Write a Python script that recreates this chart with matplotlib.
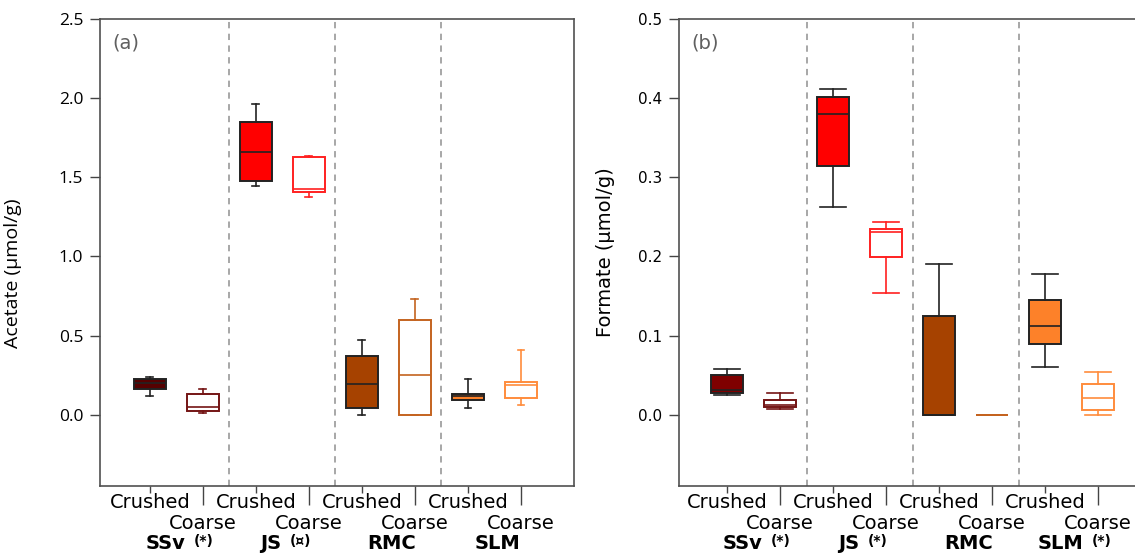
import numpy as np
import matplotlib.pyplot as plt
from matplotlib.offsetbox import TextArea, HPacker, AnnotationBbox

# sites and treatments
sites = ['SSv', 'JS', 'RMC', 'SLM']
treatments = ['Crushed', 'Coarse']
marks_a = ['(*)', '(\u00a4)', '', '']
marks_b = ['(*)', '(*)', '', '(*)']

# box stats, order: SSv crushed, SSv coarse, JS crushed, JS coarse, RMC ..., SLM ...
# acetate (umol/g)
ac_whislo = [0.121, 0.013, 1.442, 1.374, 0.000, 0.000, 0.044, 0.063]
ac_q1     = [0.165, 0.025, 1.476, 1.408, 0.042, 0.000, 0.095, 0.106]
ac_med    = [0.201, 0.049, 1.660, 1.423, 0.192, 0.254, 0.116, 0.186]
ac_q3     = [0.224, 0.131, 1.848, 1.626, 0.370, 0.598, 0.133, 0.205]
ac_whishi = [0.241, 0.165, 1.964, 1.637, 0.472, 0.732, 0.228, 0.412]

# formate (umol/g)
fo_whislo = [0.0245, 0.0076, 0.263, 0.1535, 0.000, 0.0, 0.0603, 0.000]
fo_q1     = [0.0274, 0.0101, 0.3145, 0.1998, 0.000, 0.0, 0.0898, 0.0055]
fo_med    = [0.0308, 0.0118, 0.380, 0.231, 0.000, 0.0, 0.1126, 0.0207]
fo_q3     = [0.0497, 0.0186, 0.401, 0.2344, 0.1252, 0.0, 0.1446, 0.0388]
fo_whishi = [0.0578, 0.027, 0.411, 0.244, 0.1906, 0.0, 0.1775, 0.0544]

crushed_col_a = ['#560000', '#ff0000', '#a64200', '#fd8129']
crushed_col_b = ['#7f0000', '#ff0000', '#a64200', '#fd8129']
coarse_col = ['#741414', '#ff2020', '#c4631f', '#ff8c3c']


def draw_panel(ax, whislo, q1, med, q3, whishi, crushed_col, capw, ylim, yticks,
               ylabel, tag, marks, tickfont, ylab_pos):
    for i in range(8):
        site = i // 2
        stats = [dict(whislo=whislo[i], q1=q1[i], med=med[i], q3=q3[i],
                      whishi=whishi[i], fliers=[])]
        if i % 2 == 0:
            fc, ec, lc = crushed_col[site], '#222222', '#222222'
        else:
            fc, ec, lc = 'white', coarse_col[site], coarse_col[site]
        ax.bxp(stats, positions=[i + 1], widths=0.6, patch_artist=True,
               manage_ticks=False, capwidths=capw,
               boxprops=dict(facecolor=fc, edgecolor=ec, linewidth=1.4),
               medianprops=dict(color=lc, linewidth=1.2),
               whiskerprops=dict(color=lc, linewidth=1.2),
               capprops=dict(color=lc, linewidth=1.2))

    for xs in [2.5, 4.5, 6.5]:
        ax.axvline(xs, color='#a0a0a0', linestyle=(0, (3.5, 3)), linewidth=1.3, zorder=0)

    ax.set_ylim(*ylim)
    ax.set_yticks(yticks)
    ax.set_yticklabels(['%.1f' % t for t in yticks], fontfamily=tickfont[0], fontsize=tickfont[1])
    ax.set_ylabel(ylabel, fontfamily=tickfont[2], fontsize=14)
    ax.yaxis.set_label_coords(ylab_pos[0], ylab_pos[1])
    ax.tick_params(axis='y', length=7, width=1, pad=5, color='#444444')

    ax.set_xticks([1, 3, 5, 7], labels=['Crushed'] * 4)
    ax.set_xticks([2, 4, 6, 8], labels=['Coarse'] * 4, minor=True)
    ax.tick_params(axis='x', which='major', length=5, width=1, pad=0, labelsize=14, color='#444444')
    ax.tick_params(axis='x', which='minor', length=14, width=1, pad=6, labelsize=14, color='#444444')

    for sp in ax.spines.values():
        sp.set_color('#505050')
        sp.set_linewidth(1.2)

    ax.text(0.027, 0.97, tag, transform=ax.transAxes, ha='left', va='top',
            fontsize=14, color='#606060')

    for k, name in enumerate(sites):
        kids = [TextArea(name, textprops=dict(fontsize=14, fontweight='bold'))]
        if marks[k]:
            kids.append(TextArea(marks[k], textprops=dict(fontsize=10, fontweight='bold')))
        pack = HPacker(children=kids, align='top', pad=0, sep=6)
        ab = AnnotationBbox(pack, (2 * k + 1.56, -0.124), xycoords=ax.get_xaxis_transform(),
                            frameon=False, box_alignment=(0.5, 0.5), annotation_clip=False)
        ax.add_artist(ab)


fig = plt.figure(figsize=(11.35, 5.53), dpi=100)
ax1 = fig.add_axes([100 / 1135, 1 - 486 / 553, 474 / 1135, 467 / 553])
ax2 = fig.add_axes([679 / 1135, 1 - 486 / 553, 474 / 1135, 467 / 553])

draw_panel(ax1, ac_whislo, ac_q1, ac_med, ac_q3, ac_whishi, crushed_col_a, 0.13,
           (-0.45, 2.5), [0.0, 0.5, 1.0, 1.5, 2.0, 2.5], 'Acetate (\u00b5mol/g)', '(a)',
           marks_a, ('Open Sans', 12.5, 'Open Sans'), (-0.165, 0.455))
ax1.set_xlim(0.06, 9.0)

draw_panel(ax2, fo_whislo, fo_q1, fo_med, fo_q3, fo_whishi, crushed_col_b, 0.5,
           (-0.09, 0.5), [0.0, 0.1, 0.2, 0.3, 0.4, 0.5], 'Formate (\u00b5mol/g)', '(b)',
           marks_b, ('DejaVu Sans', 11, 'DejaVu Sans'), (-0.135, 0.5))
ax2.set_xlim(0.094, 9.034)

fig.savefig('out.png', dpi=100)
